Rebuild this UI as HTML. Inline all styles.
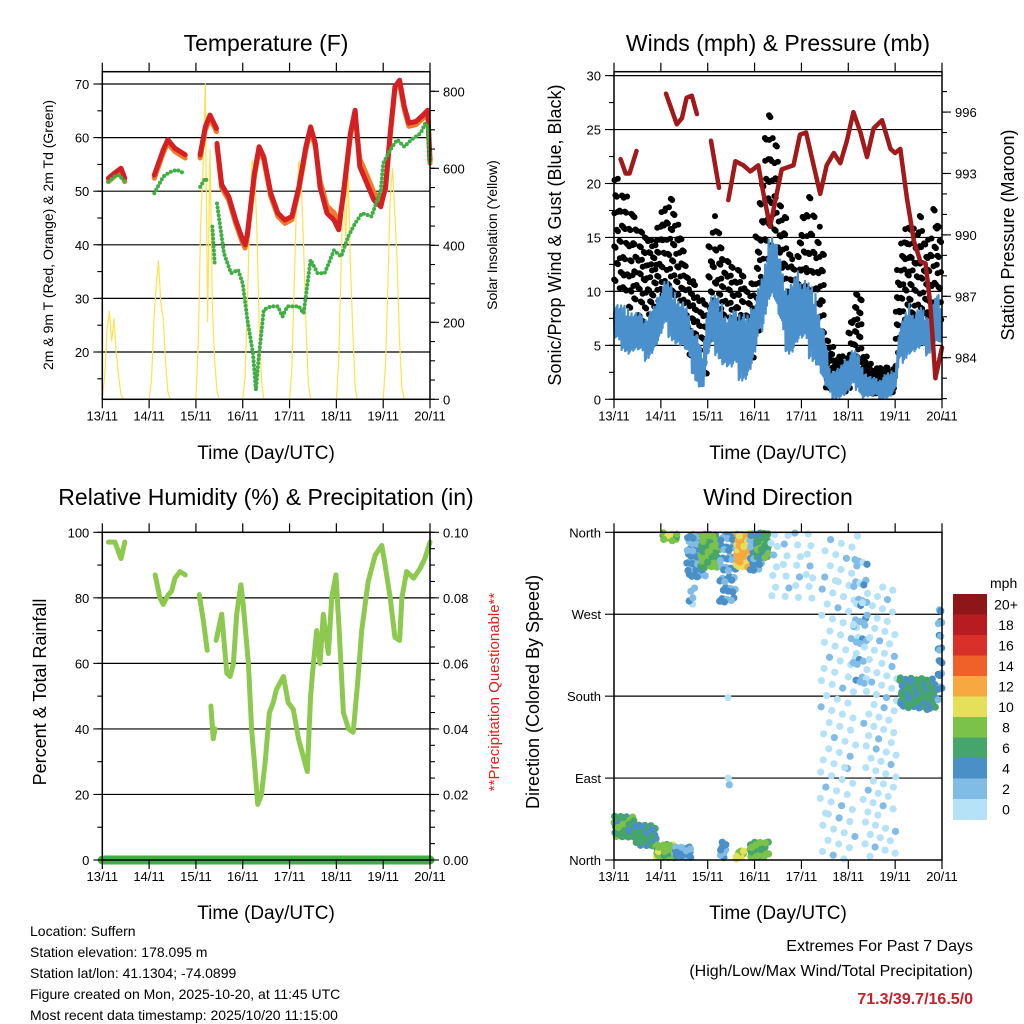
<!DOCTYPE html>
<html><head><meta charset="utf-8"><title>Suffern Station Meteogram</title>
<style>
html,body{margin:0;padding:0;background:#fff;}
svg{display:block;font-family:"Liberation Sans",Arial,sans-serif;}
</style></head>
<body>
<svg id="chart" width="1024" height="1024" viewBox="0 0 1024 1024" xmlns="http://www.w3.org/2000/svg">
<rect x="0" y="0" width="1024" height="1024" fill="#fff"/>
<text x="266" y="51" font-size="23" text-anchor="middle">Temperature (F)</text>
<text x="778" y="51" font-size="23" text-anchor="middle">Winds (mph) &amp; Pressure (mb)</text>
<text x="266" y="505" font-size="23" text-anchor="middle">Relative Humidity (%) &amp; Precipitation (in)</text>
<text x="778" y="505" font-size="23" text-anchor="middle">Wind Direction</text>
<text x="266" y="459" font-size="19" text-anchor="middle">Time (Day/UTC)</text>
<text x="778" y="459" font-size="19" text-anchor="middle">Time (Day/UTC)</text>
<text x="266" y="919" font-size="19" text-anchor="middle">Time (Day/UTC)</text>
<text x="778" y="919" font-size="19" text-anchor="middle">Time (Day/UTC)</text>
<text transform="translate(53,235) rotate(-90)" font-size="14" text-anchor="middle">2m &amp; 9m T (Red, Orange) &amp; 2m Td (Green)</text>
<text transform="translate(497,235) rotate(-90)" font-size="14" text-anchor="middle">Solar Insolation (Yellow)</text>
<text transform="translate(561,235) rotate(-90)" font-size="18" text-anchor="middle">Sonic/Prop Wind &amp; Gust (Blue, Black)</text>
<text transform="translate(1014,235) rotate(-90)" font-size="18" text-anchor="middle">Station Pressure (Maroon)</text>
<text transform="translate(46,692) rotate(-90)" font-size="18" text-anchor="middle">Percent &amp; Total Rainfall</text>
<text transform="translate(499,692) rotate(-90)" font-size="15" fill="#e8201c" text-anchor="middle">**Precipitation Questionable**</text>
<text transform="translate(539,692) rotate(-90)" font-size="18" text-anchor="middle">Direction (Colored By Speed)</text>
<g font-size="14">
<text x="30" y="936">Location: Suffern</text>
<text x="30" y="957">Station elevation: 178.095 m</text>
<text x="30" y="978">Station lat/lon: 41.1304; -74.0899</text>
<text x="30" y="999">Figure created on Mon, 2025-10-20, at 11:45 UTC</text>
<text x="30" y="1020">Most recent data timestamp: 2025/10/20 11:15:00</text>
</g>
<text x="973" y="951" font-size="16" text-anchor="end">Extremes For Past 7 Days</text>
<text x="973" y="976" font-size="16" text-anchor="end">(High/Low/Max Wind/Total Precipitation)</text>
<text x="973" y="1004" font-size="16" font-weight="bold" fill="#c8202a" text-anchor="end">71.3/39.7/16.5/0</text>
</svg>
<script>
// ---------- DATA ----------
const dayLabels = ["13/11","14/11","15/11","16/11","17/11","18/11","19/11","20/11"];
const tempT = [0.13,0.25,0.4,0.48,null,1.11,1.3,1.4,1.55,1.77,null,2.09,2.2,2.3,2.44,null,2.45,2.55,2.7,2.85,3.0,3.05,3.1,3.25,3.35,3.45,3.6,3.75,3.9,4.05,4.2,4.35,4.45,4.55,4.65,4.8,4.95,5.05,5.15,5.3,5.4,5.5,5.65,5.8,5.95,6.05,6.15,6.25,6.35,6.45,6.55,6.7,6.85,6.95,7.0];
const redV = [52.4,53.3,54.3,52.4,null,53.0,57.7,59.6,58.0,56.8,null,56.8,62.0,64.2,61.7,null,58.9,51.2,49.0,44.6,40.9,40.0,42.1,53.3,58.3,56.4,49.6,45.9,44.6,45.3,50.8,58.3,62.0,58.9,50.8,45.9,44.6,42.8,49.6,60.8,65.1,54.6,51.5,48.4,47.1,50.8,60.8,69.5,70.7,65.8,62.7,63.0,64.2,65.1,55.8];
const orangeV = [51.8,52.7,53.7,51.8,null,52.4,57.1,59.0,57.4,56.2,null,56.2,61.4,63.6,61.1,null,58.3,50.6,48.4,44.0,40.3,39.4,41.5,52.7,57.7,55.8,49.0,45.3,44.0,44.7,50.2,57.7,61.4,58.3,52.0,47.2,46.0,44.0,49.0,60.2,64.5,56.0,53.0,49.8,48.2,50.2,60.2,68.9,70.1,65.2,62.1,62.4,63.6,64.5,55.2];
const tdT = [0.13,0.25,0.35,0.48,null,1.11,1.3,1.45,1.6,1.75,null,2.09,2.2,2.27,null,2.35,2.4,null,2.45,2.6,2.75,2.9,3.0,3.1,3.22,3.28,3.35,3.45,3.6,3.75,3.85,3.95,4.2,4.3,4.45,4.6,4.75,4.95,5.1,5.25,5.4,5.55,5.75,5.95,6.0,6.15,6.3,6.45,6.6,6.8,6.9,6.95,7.0];
const tdV = [51.8,52.7,53.0,51.8,null,49.6,52.7,53.6,54.0,53.3,null,50.8,52.4,51.5,null,43.4,36.5,null,47.7,38.4,34.7,35.3,32.8,26.0,19.7,12.9,19.7,27.9,28.5,28.5,26.6,28.5,28.5,27.2,37.2,34.7,34.7,39.0,37.8,41.5,44.0,45.9,45.3,50.2,55.2,57.7,59.6,58.3,59.6,60.8,62.7,62.0,55.2];
const solarDay0 = [0,60,180,230,150,210,120,60,10,0,0];
const solarDay1 = [0,50,200,290,360,250,210,100,20,0,0];
const solarDay2 = [0,150,450,600,820,200,650,250,100,20,0];
const solarDay3 = [0,60,250,480,620,600,450,200,50,0,0];
const solarDay4 = [0,80,300,520,620,560,400,200,40,0,0];
const solarDay5 = [0,100,350,560,420,600,350,180,30,0,0];
const solarDay6 = [0,90,300,520,600,480,350,150,30,0,0];
const solarDays = [solarDay0,solarDay1,solarDay2,solarDay3,solarDay4,solarDay5,solarDay6];

const windHi = [9.5,9,9,8.5,8.5,8,8,8,8.5,9, 11,11.5,11,10,9.5,9,8,7,6,4, 10,10,10,9,8,8,8.5,9,8,8, 10,11,12,15,16,14,12,11,11,12, 12,11.5,11,10,8,6,3,3,3,3.5, 4.5,5,4.5,3,2.5,2,2,2,2.5,2.5, 3,7,8,9,8,8.5,8.5,8,9,10,9];
const windLo = [5,4.5,4.5,4,4,4,3.5,3.5,4,4.5, 5,6,5.5,5,4.5,4,3,2,1,0.5, 3,4,4,3,2.5,2,2,1.5,1.5,2, 3,5,7,9,9,7,5,4,4,4.5, 4.5,4,3.5,3,2,0.5,0,0,0,0, 0,0.5,1,0,0,0,0,0,0,0, 0.5,3,3.5,4,4,4,4,4,4.5,5,4];
const gustHi = [21,20,19,18,17,16,16,15,15,16, 18,19,19,17,15,13,12,11,10,9, 15,17,16,14,13,13,12,12,11,11, 16,20,25,28,24,19,17,14,13,15, 18,19,18,16,14,6,5,4,4,4, 8,10,10,4,3.5,3,3,3,3,3, 12,15,17,16,16,17,15,16,18,17,15];
const gustLo = [10,10,9,8,8,7,7,7,7,8, 9,9,9,8,7,5,4,3,2,1.5, 5,6,6,5,4,4,4,3.5,3,3, 6,8,12,14,13,9,7,6,6,6, 7,7,6,6,4,1,0.5,0.5,0.5,0.5, 1,2,2,0.5,0.5,0.5,0.5,0.5,0.5,0.5, 3,6,7,7,7,7,6,6,6,7,6];
const presT = [0.14,0.25,0.33,0.48,null,1.11,1.34,1.45,1.55,1.66,1.77,null,2.07,2.24,null,2.44,2.59,2.76,2.91,3.08,3.19,3.33,3.48,3.58,3.83,3.97,4.10,4.26,4.40,4.54,4.69,4.83,4.97,5.11,5.26,5.40,5.54,5.72,5.90,6.00,6.11,6.25,6.40,6.54,6.65,6.75,6.86,7.0];
const presV = [993.7,993.0,993.0,994.1,null,996.9,995.4,995.7,996.7,996.8,995.9,null,994.6,992.3,null,991.7,993.6,993.4,993.1,993.4,992.0,990.4,992.1,993.2,993.4,994.9,995.0,993.4,992.0,993.4,994.0,993.5,994.6,996.0,995.0,993.8,995.2,995.6,994.2,994.0,994.2,991.8,989.7,988.7,988.6,986.6,983.0,984.5];

const rhT = [0.13,0.27,0.4,0.48,null,1.13,1.23,1.30,1.41,1.48,1.55,1.66,1.77,null,2.07,2.16,2.24,null,2.32,2.37,2.41,null,2.43,2.55,2.66,2.73,2.8,2.87,2.96,3.01,3.12,3.19,3.26,3.32,3.4,3.48,3.57,3.65,3.72,3.87,3.97,4.08,4.19,4.38,4.45,4.51,4.58,4.65,4.72,4.83,4.9,4.99,5.06,5.15,5.26,5.36,5.46,5.54,5.68,5.83,5.97,6.04,6.15,6.25,6.35,6.40,6.5,6.65,6.79,6.89,7.0];
const rhV = [97,97,92,97,null,87,80,78,81,82,86,88,87,null,81,73,64,null,47,37,40,null,67,75,57,56,60,75,84,78,60,40,28,17,20,30,45,48,52,56,48,46,37,27,50,60,70,60,75,63,80,87,70,45,40,39,55,70,85,93,96,90,80,68,67,80,88,86,89,92,97];
const precipT = [0,7];
const precipV = [0,0];

const clT0 = [0.0,0.45,0.85,1.3,0.98,1.55,1.6,1.85,2.25,2.6,2.9,3.0,2.6,2.9,2.25,3.3,4.4,5.1,5.3,6.1,6.9,2.43,2.43];
const clT1 = [0.45,0.9,1.3,1.7,1.35,1.95,1.75,2.25,2.6,2.95,3.15,3.3,2.8,3.3,2.4,4.3,5.2,5.4,6.05,6.9,7.0,2.46,2.46];
const clDLo = [25,15,2,2,350,310,275,320,280,320,315,330,0,2,0,280,0,180,0,165,175,176,75];
const clDHi = [50,40,18,15,360,360,300,360,360,360,360,360,10,20,20,360,360,330,300,200,275,180,92];
const clSpd = [7,6,9,4,9,4,3,8,4,12,4,7,10,8,4,1,1,3,1,6,4,1,2];
const clN = [45,35,35,20,10,50,5,45,45,45,30,28,8,28,8,30,90,35,85,70,20,1,2];
const speedColors = ["#b6e2f8","#80bce6","#4a8fc6","#46a56c","#7bc24a","#e5e05a","#f8a841","#f06129","#d9302a","#b71c22","#8e1518"];
const speedLabels = ["0","2","4","6","8","10","12","14","16","18","20+"];

// ---------- DRAWING ----------
const NS = "http://www.w3.org/2000/svg";
const svg = document.getElementById("chart");
function el(tag, attrs, parent){
  const e = document.createElementNS(NS, tag);
  for (const k in attrs) e.setAttribute(k, attrs[k]);
  (parent||svg).appendChild(e);
  return e;
}
function frac(v){ return v - Math.floor(v); }

const LX0 = 102.3, LX1 = 430, RX0 = 614, RX1 = 942;
const TY0 = 71.7, TY1 = 399.3, BY0 = 532.3, BY1 = 860;
const dayW = (LX1-LX0)/7, dayW2 = (RX1-RX0)/7;
const xL = t => LX0 + t*dayW;
const xR = t => RX0 + t*dayW2;
const yTemp = v => 84 + (70 - v)*5.36;
const ySolar = v => 399.3 - v*0.385;
const yWind = v => 399.3 - v*10.79;
const yPres = p => 357.7 - (p - 984)*20.47;
const yRH = v => 860 - v*3.277;
const yPrecip = v => 860 - v*3277;
const yDir = d => 860 - d/360*327.7;

function hline(x0,x1,y,name){
  const l = el("line",{x1:x0,x2:x1,y1:y,y2:y,stroke:"#000","stroke-width":1.2});
  
  
}
function frame(x0,x1,y0,y1,name){
  const r = el("rect",{x:x0,y:y0,width:x1-x0,height:y1-y0,fill:"none",stroke:"#000","stroke-width":1.5});
  
  
}
function xTicks(x0, y0, y1, w, prefix){
  for (let i=0;i<dayLabels.length;i++){
    const x = x0 + i*w;
    const a = el("line",{x1:x,x2:x,y1:y0,y2:y0-9,stroke:"#000","stroke-width":1.2});
    
    
    const b = el("line",{x1:x,x2:x,y1:y1,y2:y1+9,stroke:"#000","stroke-width":1.2});
    
    
    const t = el("text",{x:x,y:y1+21,"font-size":13,"text-anchor":"middle"});
    t.textContent = dayLabels[i];
    
    
  }
}
function yTicks(x, dir, vals, yf, len, labels, prefix, anchor){
  vals.forEach((v,i)=>{
    const y = yf(v);
    const l = el("line",{x1:x,x2:x+dir*len,y1:y,y2:y,stroke:"#000","stroke-width":1.1});
    
    
    if (labels && labels[i] !== null && labels[i] !== undefined){
      const t = el("text",{x:x+dir*(len+4),y:y+5,"font-size":13,"text-anchor":anchor});
      t.textContent = labels[i];
      
      
    }
  });
}
function pathFrom(ts, vs, xf, yf){
  let d = "", pen = false;
  for (let i=0;i<ts.length;i++){
    if (ts[i]===null || vs[i]===null){ pen=false; continue; }
    d += (pen?"L":"M") + xf(ts[i]).toFixed(1) + "," + yf(vs[i]).toFixed(1);
    pen = true;
  }
  return d;
}
function range(a,b,s){ const r=[]; for(let v=a; v<=b+1e-9; v+=s) r.push(+v.toFixed(4)); return r; }

// ===== Temperature panel =====
[20,30,40,50,60,70].forEach(v=>hline(LX0,LX1,yTemp(v),'temperature-gridline'));
solarDays.forEach((arr,d)=>{
  const ts = arr.map((_,i)=>d+i*0.05);
  const p = el("path",{d:pathFrom(ts,arr,xL,ySolar),fill:"none",stroke:"#fde24b","stroke-width":1.2});
  
  
});
let p;
p = el("path",{d:pathFrom(tempT,orangeV,xL,yTemp),fill:"none",stroke:"#f07a28","stroke-width":5,"stroke-linejoin":"round","stroke-linecap":"round"});


p = el("path",{d:pathFrom(tempT,redV,xL,yTemp),fill:"none",stroke:"#d42024","stroke-width":5,"stroke-linejoin":"round","stroke-linecap":"round"});


p = el("path",{d:pathFrom(tdT,tdV,xL,yTemp),fill:"none",stroke:"#3fae45","stroke-width":4,"stroke-dasharray":"0 4","stroke-linecap":"round"});


frame(LX0,LX1,TY0,TY1,'temperature-plot-frame');
xTicks(LX0,TY0,TY1,dayW,'temperature');
yTicks(LX0,-1,range(15,70,5),yTemp,5,null,'temperature-minor','end');
yTicks(LX0,-1,[20,30,40,50,60,70],yTemp,9,["20","30","40","50","60","70"],'temperature-y','end');
yTicks(LX1,1,range(0,800,50),ySolar,5,null,'solar-minor','start');
yTicks(LX1,1,[0,200,400,600,800],ySolar,9,["0","200","400","600","800"],'solar-y','start');

// ===== Winds panel =====
[5,10,15,20,25,30].forEach(v=>hline(RX0,RX1,yWind(v),'winds-gridline'));
{
  const g = el("g",{fill:"#000"});
  
  
  for (let i=0;i<gustHi.length-1;i++){
    for (let j=0;j<14;j++){
      const t = (i+frac(0.7549*j+0.13*i+0.04))*0.1;
      const v = gustLo[i]+(gustHi[i]-gustLo[i])*frac(0.5698*j+0.37*i+0.1);
      const c = el("circle",{cx:xR(t).toFixed(1),cy:yWind(v).toFixed(1),r:3},g);
      
      
    }
  }
}
{
  let d = "";
  const sub = 8;
  for (let i=0;i<windHi.length-1;i++){
    for (let j=0;j<sub;j++){
      const f = j/sub, t = (i+f)*0.1;
      const hi = windHi[i]+(windHi[i+1]-windHi[i])*f;
      const lo = windLo[i]+(windLo[i+1]-windLo[i])*f;
      const v = (j%2===0) ? lo + (hi-lo)*(0.7+0.3*frac(0.618*j+0.3*i)) : lo + (hi-lo)*0.3*frac(0.5698*j+0.2*i);
      d += (d?"L":"M")+xR(t).toFixed(1)+","+yWind(v).toFixed(1);
    }
  }
  p = el("path",{d:d,fill:"none",stroke:"#4a90cc","stroke-width":2.2,"stroke-linejoin":"round"});
  
  
}
p = el("path",{d:pathFrom(presT,presV,xR,yPres),fill:"none",stroke:"#a01a1c","stroke-width":4.5,"stroke-linejoin":"round","stroke-linecap":"round"});


frame(RX0,RX1,TY0,TY1,'winds-plot-frame');
xTicks(RX0,TY0,TY1,dayW2,'winds');
yTicks(RX0,-1,range(0,30,2.5),yWind,5,null,'winds-minor','end');
yTicks(RX0,-1,[0,5,10,15,20,25,30],yWind,9,["0","5","10","15","20","25","30"],'winds-y','end');
yTicks(RX1,1,range(981,997,1),yPres,5,null,'pressure-minor','start');
yTicks(RX1,1,[984,987,990,993,996],yPres,9,["984","987","990","993","996"],'pressure-y','start');

// ===== RH panel =====
[20,40,60,80].forEach(v=>hline(LX0,LX1,yRH(v),'humidity-gridline'));
p = el("path",{d:pathFrom(rhT,rhV,xL,yRH),fill:"none",stroke:"#8dc94e","stroke-width":5,"stroke-linejoin":"round","stroke-linecap":"round"});


p = el("path",{d:pathFrom(precipT,precipV,xL,yPrecip),fill:"none",stroke:"#3fae49","stroke-width":9,"stroke-linecap":"round"});


frame(LX0,LX1,BY0,BY1,'humidity-plot-frame');
xTicks(LX0,BY0,BY1,dayW,'humidity');
yTicks(LX0,-1,range(0,100,10),yRH,5,null,'humidity-minor','end');
yTicks(LX0,-1,[0,20,40,60,80,100],yRH,9,["0","20","40","60","80","100"],'humidity-y','end');
yTicks(LX1,1,range(0,0.1,0.005),yPrecip,5,null,'precip-minor','start');
yTicks(LX1,1,[0,0.02,0.04,0.06,0.08,0.1],yPrecip,9,["0.00","0.02","0.04","0.06","0.08","0.10"],'precip-y','start');

// ===== Wind direction panel =====
[90,180,270].forEach(v=>hline(RX0,RX1,yDir(v),'direction-gridline'));
{
  const g = el("g",{});
  
  
  for (let c=0;c<clT0.length;c++){
    for (let k=0;k<clN[c];k++){
      const t = clT0[c]+(clT1[c]-clT0[c])*frac(0.5+0.7549*k+0.17*c);
      const d = clDLo[c]+(clDHi[c]-clDLo[c])*frac(0.5+0.5698*k+0.29*c);
      const s = clSpd[c]+((k*7)%5-2)*0.9;
      const idx = Math.max(0,Math.min(10,Math.floor(s/2)));
      const pt = el("circle",{cx:xR(t).toFixed(1),cy:yDir(d).toFixed(1),r:3.6,fill:speedColors[idx]},g);
      
      
    }
  }
}
frame(RX0,RX1,BY0,BY1,'direction-plot-frame');
xTicks(RX0,BY0,BY1,dayW2,'direction');
yTicks(RX0,-1,[0,90,180,270,360],yDir,9,["North","East","South","West","North"],'direction-y','end');
{
  const cbY0 = 594, cbH = 20.5;
  const t = el("text",{x:990,y:588,"font-size":14});
  t.textContent = "mph";
  
  
  for (let i=0;i<speedColors.length;i++){
    const k = speedColors.length-1-i;
    const y = cbY0 + i*cbH;
    const r = el("rect",{x:953,y:y,width:34,height:cbH+0.5,fill:speedColors[k]});
    
    
    const lb = el("text",{x:1006,y:y+cbH/2+5,"font-size":14,"text-anchor":"middle"});
    lb.textContent = speedLabels[k];
    
    
  }
}
</script>
</body></html>
